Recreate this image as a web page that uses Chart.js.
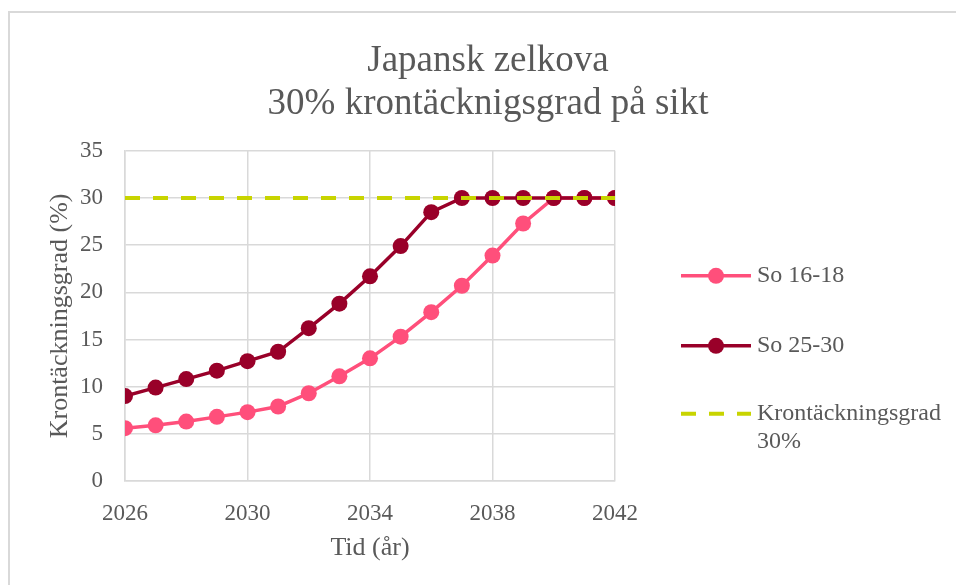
<!DOCTYPE html>
<html>
<head>
<meta charset="utf-8">
<script src="https://cdn.jsdelivr.net/npm/chart.js@4.4.1/dist/chart.umd.min.js"></script>
<style>
  html, body { margin: 0; padding: 0; background: #fff; }
  #wrap { position: relative; width: 956px; height: 585px; overflow: hidden; }
  #frame { position: absolute; left: 8px; top: 11px; width: 1000px; height: 600px;
           border-top: 2px solid #d9d9d9; border-left: 2px solid #d9d9d9; }
  canvas { position: absolute; left: 0; top: 0; }
</style>
</head>
<body>
<div id="wrap">
  <div id="frame"></div>
  <canvas id="chart" width="956" height="585"></canvas>
</div>
<script>
// years on the x axis
var years = [2026, 2027, 2028, 2029, 2030, 2031, 2032, 2033, 2034,
             2035, 2036, 2037, 2038, 2039, 2040, 2041, 2042];
// crown cover (%) per year
var so1618 = [5.6, 5.9, 6.3, 6.8, 7.3, 7.9, 9.3, 11.1, 13.0,
              15.3, 17.9, 20.7, 23.9, 27.3, 30, 30, 30];
var so2530 = [9.0, 9.9, 10.8, 11.7, 12.7, 13.7, 16.2, 18.8, 21.7,
              24.9, 28.5, 30, 30, 30, 30, 30, 30];
// target line
var targetYears = [2026, 2042];
var targetValues = [30, 30];

var seriesNames = ['So 16-18', 'So 25-30', ['Krontäckningsgrad', '30%']];
var titleLines = ['Japansk zelkova', '30% krontäcknigsgrad på sikt'];

var textColor = '#595959';
var gridColor = '#d9d9d9';
var serif = "'Liberation Serif', 'Times New Roman', serif";

function toPoints(xs, ys) {
  return xs.map(function (x, i) { return { x: x, y: ys[i] }; });
}

/**
 * Legend on the right side, drawn by hand so the
 * last entry can wrap onto two lines like the original.
 */
var sideLegend = {
  id: 'sideLegend',
  afterDraw: function (chart) {
    var ctx = chart.ctx;
    var area = chart.chartArea;
    var x0 = area.right + 66, x1 = area.right + 136, tx = area.right + 142;
    var rows = [area.top + 125, area.top + 195, area.top + 263];
    ctx.save();
    ctx.font = '24px ' + serif;
    ctx.fillStyle = textColor;
    ctx.textBaseline = 'middle';
    chart.data.datasets.forEach(function (ds, i) {
      var y = rows[i];
      ctx.strokeStyle = ds.borderColor;
      ctx.lineWidth = ds.borderWidth;
      ctx.setLineDash(ds.borderDash || []);
      ctx.beginPath();
      ctx.moveTo(x0, y);
      ctx.lineTo(x1, y);
      ctx.stroke();
      ctx.setLineDash([]);
      if (ds.pointRadius > 0) {
        ctx.fillStyle = ds.pointBackgroundColor;
        ctx.beginPath();
        ctx.arc((x0 + x1) / 2, y, ds.pointRadius, 0, Math.PI * 2);
        ctx.fill();
      }
      ctx.fillStyle = textColor;
      var label = [].concat(seriesNames[i]);
      label.forEach(function (line, j) {
        ctx.fillText(line, tx, y + j * 28);
      });
    });
    ctx.restore();
  }
};

new Chart(document.getElementById('chart'), {
  type: 'line',
  data: {
    datasets: [
      {
        label: 'So 16-18',
        data: toPoints(years, so1618),
        borderColor: '#ff4f7b',
        backgroundColor: '#ff4f7b',
        pointBackgroundColor: '#ff4f7b',
        pointBorderWidth: 0,
        borderWidth: 3.5,
        pointRadius: 8,
        order: 2
      },
      {
        label: 'So 25-30',
        data: toPoints(years, so2530),
        borderColor: '#990029',
        backgroundColor: '#990029',
        pointBackgroundColor: '#990029',
        pointBorderWidth: 0,
        borderWidth: 3.5,
        pointRadius: 8,
        order: 1
      },
      {
        label: 'Krontäckningsgrad 30%',
        data: toPoints(targetYears, targetValues),
        borderColor: '#c8d400',
        backgroundColor: '#c8d400',
        borderWidth: 4,
        borderDash: [15, 13],
        pointRadius: 0,
        order: 0
      }
    ]
  },
  options: {
    responsive: false,
    animation: false,
    layout: { padding: { left: 20, right: 0, top: 0, bottom: 17 } },
    plugins: {
      legend: { display: false },
      tooltip: { enabled: false },
      title: {
        display: true,
        text: titleLines,
        color: textColor,
        font: { family: serif, size: 37, weight: 'normal', lineHeight: 1.16 },
        padding: { top: 40, bottom: 25 }
      }
    },
    scales: {
      x: {
        type: 'linear',
        min: 2026,
        max: 2042,
        grid: { color: gridColor, lineWidth: 1.5, drawTicks: false },
        border: { color: gridColor, width: 1.5 },
        ticks: {
          stepSize: 4,
          color: textColor,
          padding: 19,
          maxRotation: 0,
          font: { family: serif, size: 23 },
          callback: function (v) { return String(v); }
        },
        title: {
          display: true,
          text: 'Tid (år)',
          color: textColor,
          font: { family: serif, size: 26 }
        },
        afterFit: function (s) { s.height = 87; }
      },
      y: {
        min: 0,
        max: 35,
        grid: { color: gridColor, lineWidth: 1.5, drawTicks: false },
        border: { color: gridColor, width: 1.5 },
        ticks: {
          stepSize: 5,
          color: textColor,
          padding: 22,
          font: { family: serif, size: 23 }
        },
        title: {
          display: true,
          text: 'Krontäckningsgrad (%)',
          color: textColor,
          font: { family: serif, size: 26 },
          padding: { top: 25, bottom: 4 }
        },
        afterFit: function (s) { s.width = 105; }
      },
      pad: {
        type: 'linear',
        position: 'right',
        display: true,
        grid: { display: false, drawTicks: false },
        border: { display: false },
        ticks: { display: false },
        afterFit: function (s) { s.width = 341; }
      }
    }
  },
  plugins: [sideLegend]
});
</script>
</body>
</html>
